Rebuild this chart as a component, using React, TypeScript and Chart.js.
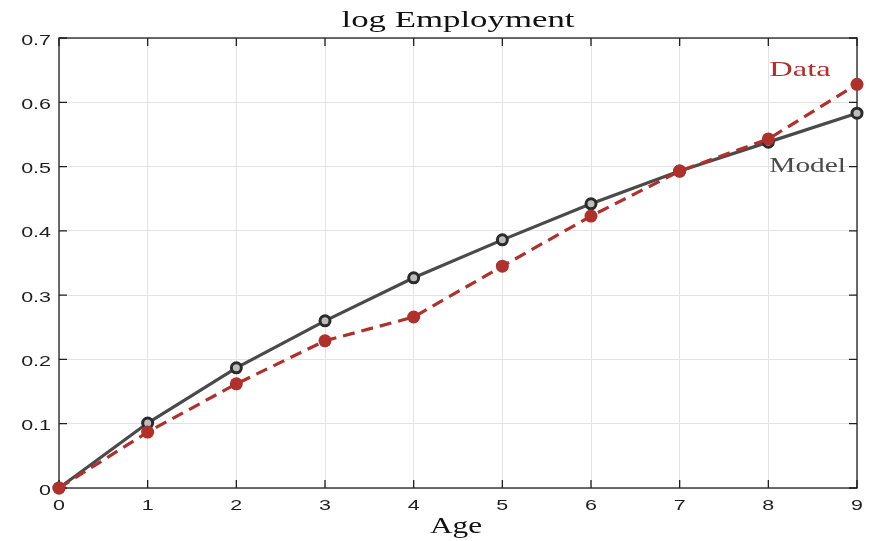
import React, { useEffect, useRef } from "react";
import { Chart, registerables } from "chart.js";

Chart.register(...registerables);

const ages = [0, 1, 2, 3, 4, 5, 6, 7, 8, 9];
const modelValues = [0, 0.101, 0.187, 0.26, 0.327, 0.386, 0.442, 0.493, 0.538, 0.583];
const dataValues = [0, 0.087, 0.162, 0.229, 0.266, 0.345, 0.423, 0.493, 0.543, 0.628];
const xTicks = [0, 1, 2, 3, 4, 5, 6, 7, 8, 9];
const yTicks = [0, 0.1, 0.2, 0.3, 0.4, 0.5, 0.6, 0.7];
const titleText = "log Employment";
const xTitle = "Age";
const dataLabel = { text: "Data", x: 8.357, y: 0.641 };
const modelLabel = { text: "Model", x: 8.876, y: 0.492 };

const AXIS = "#1f1f1f";
const RED = "#b0302b";
const GRAY = "#4a4a4a";
const SERIF = "'Liberation Serif', 'DejaVu Serif', serif";
const SANS = "'Liberation Sans', Arial, sans-serif";

function drawText(
  ctx: CanvasRenderingContext2D,
  text: string,
  x: number,
  y: number,
  font: string,
  color: string,
  align: CanvasTextAlign,
  sx: number
) {
  ctx.save();
  ctx.font = font;
  ctx.fillStyle = color;
  ctx.textAlign = align;
  ctx.textBaseline = "alphabetic";
  ctx.translate(x, y);
  ctx.scale(sx, 1);
  ctx.fillText(text, 0, 0);
  ctx.restore();
}

const fmt = (v: number) => String(Number(v.toFixed(1)));

const decorPlugin = {
  id: "decor",
  beforeDatasetsDraw(chart: any) {
    const { ctx, chartArea: a, scales } = chart;
    const xs = scales.x;
    const ys = scales.y;
    ctx.save();
    ctx.strokeStyle = AXIS;
    ctx.lineWidth = 1.3;
    ctx.strokeRect(a.left, a.top, a.right - a.left, a.bottom - a.top);
    const L = 8;
    ctx.beginPath();
    xTicks.forEach((t) => {
      const px = xs.getPixelForValue(t);
      ctx.moveTo(px, a.bottom);
      ctx.lineTo(px, a.bottom - L);
      ctx.moveTo(px, a.top);
      ctx.lineTo(px, a.top + L);
    });
    yTicks.forEach((t) => {
      const py = ys.getPixelForValue(t);
      ctx.moveTo(a.left, py);
      ctx.lineTo(a.left + L, py);
      ctx.moveTo(a.right, py);
      ctx.lineTo(a.right - L, py);
    });
    ctx.stroke();
    ctx.restore();
  },
  afterDatasetsDraw(chart: any) {
    const { ctx, chartArea: a, scales } = chart;
    const xs = scales.x;
    const ys = scales.y;
    const tickFont = `15px ${SANS}`;
    xTicks.forEach((t) => {
      drawText(ctx, fmt(t), xs.getPixelForValue(t), a.bottom + 22, tickFont, AXIS, "center", 1.43);
    });
    yTicks.forEach((t) => {
      drawText(ctx, fmt(t), a.left - 8, ys.getPixelForValue(t) + 6.5, tickFont, AXIS, "right", 1.43);
    });

    drawText(ctx, dataLabel.text, xs.getPixelForValue(dataLabel.x), ys.getPixelForValue(dataLabel.y), `21px ${SERIF}`, RED, "center", 1.55);
    drawText(ctx, modelLabel.text, xs.getPixelForValue(modelLabel.x), ys.getPixelForValue(modelLabel.y), `21px ${SERIF}`, GRAY, "right", 1.4);

    const cx = (a.left + a.right) / 2;
    drawText(ctx, titleText, cx, 27, `24px ${SERIF}`, "#111", "center", 1.45);
    drawText(ctx, xTitle, cx - 2, 533, `24px ${SERIF}`, "#111", "center", 1.3);
  },
};

export default function App() {
  const ref = useRef<HTMLCanvasElement>(null);
  useEffect(() => {
    document.body.style.margin = "0";
    const chart = new Chart(ref.current!, {
      type: "line",
      data: {
        datasets: [
          {
            label: "Data",
            data: ages.map((a, i) => ({ x: a, y: dataValues[i] })),
            borderColor: RED,
            backgroundColor: RED,
            borderWidth: 3.2,
            borderDash: [12, 7],
            pointRadius: 6.5,
            pointBorderWidth: 0,
            pointBackgroundColor: RED,
            clip: false,
            order: 0,
          },
          {
            label: "Model",
            data: ages.map((a, i) => ({ x: a, y: modelValues[i] })),
            borderColor: GRAY,
            backgroundColor: "#bdbdbd",
            borderWidth: 3.2,
            pointRadius: 5,
            pointBorderWidth: 3,
            pointBorderColor: "#2b2b2b",
            pointBackgroundColor: "#bdbdbd",
            clip: false,
            order: 1,
          },
        ],
      },
      options: {
        animation: false,
        responsive: false,
        maintainAspectRatio: false,
        layout: { padding: { top: 38, right: 12, left: 0, bottom: 0 } },
        plugins: { legend: { display: false }, title: { display: false }, tooltip: { enabled: false } },
        scales: {
          x: {
            type: "linear",
            min: 0,
            max: 9,
            afterFit: (s: any) => { s.height = 53; },
            afterBuildTicks: (s: any) => { s.ticks = xTicks.map((v) => ({ value: v })); },
            ticks: { display: false },
            grid: { color: "#e3e3e3", lineWidth: 1, drawTicks: false },
            border: { display: false },
          },
          y: {
            type: "linear",
            min: 0,
            max: 0.7,
            afterFit: (s: any) => { s.width = 59; },
            afterBuildTicks: (s: any) => { s.ticks = yTicks.map((v) => ({ value: v })); },
            ticks: { display: false },
            grid: { color: "#e3e3e3", lineWidth: 1, drawTicks: false },
            border: { display: false },
          },
        },
      },
      plugins: [decorPlugin],
    });
    return () => chart.destroy();
  }, []);
  return (
    <div style={{ width: 869, height: 541, background: "#fff" }}>
      <canvas ref={ref} width={869} height={541} style={{ display: "block" }} />
    </div>
  );
}
